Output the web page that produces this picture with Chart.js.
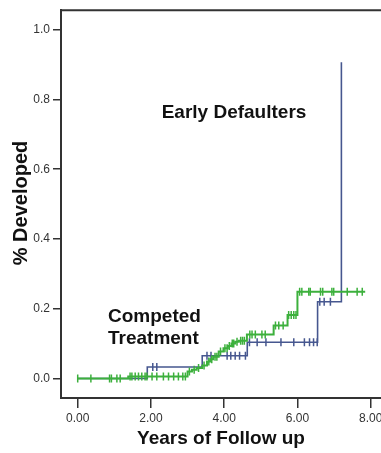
<!DOCTYPE html>
<html>
<head>
<meta charset="utf-8">
<script src="https://cdn.jsdelivr.net/npm/chart.js@4"></script>
<style>
  html, body { margin: 0; padding: 0; background: #fff; overflow: hidden; }
  #wrap { width: 400px; height: 453px; }
</style>
</head>
<body>
<div id="wrap"><canvas id="km" width="400" height="453"></canvas></div>
<script>
// step curves (time in years, cumulative proportion after the step)
const greenTimes = [0, 1.38, 3.0, 3.12, 3.25, 3.4, 3.53, 3.62, 3.7, 3.85, 3.98, 4.1, 4.2, 4.3, 4.4, 4.62, 5.35, 5.73, 6.0, 7.85];
const greenValues = [0, 0.006, 0.02, 0.025, 0.03, 0.037, 0.049, 0.055, 0.062, 0.077, 0.087, 0.093, 0.1, 0.105, 0.108, 0.126, 0.152, 0.182, 0.249, 0.249];
const blueTimes = [0, 1.9, 3.4, 4.63, 6.55, 7.2, 7.2];
const blueValues = [0, 0.033, 0.065, 0.104, 0.22, 0.22, 0.907];

// censored observations
const greenCensored = [0.0, 0.36, 0.87, 0.92, 1.07, 1.16, 1.43, 1.48, 1.57, 1.66, 1.75, 1.84, 1.89, 2.03, 2.16, 2.34, 2.48, 2.62, 2.75, 2.87, 2.94,
  3.05, 3.18, 3.3, 3.45, 3.58, 3.66, 3.75, 3.8, 3.9, 4.02, 4.08, 4.14, 4.22, 4.26, 4.35, 4.45, 4.5, 4.55,
  4.7, 4.76, 4.85, 5.03, 5.12, 5.4, 5.49, 5.61, 5.76, 5.83, 5.9, 5.96,
  6.06, 6.12, 6.31, 6.35, 6.63, 6.69, 6.94, 6.99, 7.36, 7.63, 7.77];
const blueCensored = [2.05, 2.16, 3.53, 3.64, 4.08, 4.18, 4.3, 4.42, 4.58,
  4.69, 4.9, 5.14, 5.55, 5.9, 6.19, 6.33, 6.44, 6.54, 6.61, 6.73, 6.9];

const yTicks = [0, 0.2, 0.4, 0.6, 0.8, 1.0];
const xTicks = [0, 2, 4, 6, 8];

const GREEN = "#3cb03c";
const BLUE = "#46578f";
const BOLD = "'Liberation Sans', Arial, sans-serif";

function stepAt(times, values, t) {
  let v = values[0];
  for (let i = 0; i < times.length; i++) {
    if (times[i] <= t) v = values[i];
  }
  return v;
}

const toPoints = (times, values) => times.map((t, i) => ({ x: t, y: values[i] }));
const censorPoints = (list, times, values) =>
  list.map((t) => ({ x: t, y: stepAt(times.slice(0, -1), values.slice(0, -1), t) }));

const censorStyle = (color) => ({
  showLine: false,
  pointStyle: "line",
  rotation: 90,
  pointRadius: 4,
  pointBorderWidth: 1.5,
  borderColor: color,
  backgroundColor: color,
});

const framePlugin = {
  id: "frame",
  afterDraw(chart) {
    const { ctx, chartArea } = chart;
    ctx.save();
    ctx.strokeStyle = "#333";
    ctx.lineWidth = 2;
    ctx.beginPath();
    ctx.moveTo(chartArea.left, chartArea.top);
    ctx.lineTo(chartArea.right, chartArea.top);
    ctx.lineTo(chartArea.right, chartArea.bottom);
    ctx.stroke();

    ctx.fillStyle = "#111";
    ctx.textBaseline = "middle";
    ctx.textAlign = "center";
    ctx.font = `bold 19px ${BOLD}`;
    ctx.fillText("Years of Follow up", 221, 439);
    ctx.fillText("Early Defaulters", 234, 113);

    ctx.textAlign = "left";
    ctx.fillText("Competed", 108, 317);
    ctx.fillText("Treatment", 108, 339);

    ctx.translate(21, 203);
    ctx.rotate(-Math.PI / 2);
    ctx.textAlign = "center";
    ctx.font = `bold 20px ${BOLD}`;
    ctx.fillText("% Developed", 0, 0);
    ctx.restore();
  },
};

new Chart(document.getElementById("km"), {
  type: "scatter",
  data: {
    datasets: [
      {
        label: "Competed Treatment",
        data: toPoints(greenTimes, greenValues),
        showLine: true,
        stepped: "before",
        borderColor: GREEN,
        borderWidth: 2,
        pointRadius: 0,
      },
      {
        label: "Competed Treatment censored",
        data: censorPoints(greenCensored, greenTimes, greenValues),
        ...censorStyle(GREEN),
      },
      {
        label: "Early Defaulters",
        data: toPoints(blueTimes, blueValues),
        showLine: true,
        stepped: "before",
        borderColor: BLUE,
        borderWidth: 1.6,
        pointRadius: 0,
      },
      {
        label: "Early Defaulters censored",
        data: censorPoints(blueCensored, blueTimes, blueValues),
        ...censorStyle(BLUE),
      },
    ],
  },
  options: {
    responsive: false,
    animation: false,
    layout: { padding: { top: 5, right: 11, left: 0, bottom: 0 } },
    plugins: {
      legend: { display: false },
      tooltip: { enabled: false },
    },
    scales: {
      x: {
        type: "linear",
        min: -0.456,
        max: 8.5,
        afterBuildTicks: (scale) => {
          scale.ticks = xTicks.map((v) => ({ value: v }));
        },
        afterFit: (scale) => {
          scale.height = 55;
        },
        ticks: {
          color: "#333",
          padding: 3,
          maxRotation: 0,
          font: { family: "'Liberation Sans', Arial, sans-serif", size: 12 },
          callback: (v) => Number(v).toFixed(2),
        },
        grid: { drawOnChartArea: false, drawTicks: true, tickLength: 10, color: "#333", lineWidth: 1.5 },
        border: { display: true, color: "#333", width: 2 },
      },
      y: {
        type: "linear",
        min: -0.056,
        max: 1.056,
        afterBuildTicks: (scale) => {
          scale.ticks = yTicks.map((v) => ({ value: v }));
        },
        afterFit: (scale) => {
          scale.width = 61;
        },
        ticks: {
          color: "#333",
          padding: 3,
          font: { family: "'Liberation Sans', Arial, sans-serif", size: 12 },
          callback: (v) => Number(v).toFixed(1),
        },
        grid: { drawOnChartArea: false, drawTicks: true, tickLength: 8, color: "#333", lineWidth: 1.5 },
        border: { display: true, color: "#333", width: 2 },
      },
    },
  },
  plugins: [framePlugin],
});
</script>
</body>
</html>
